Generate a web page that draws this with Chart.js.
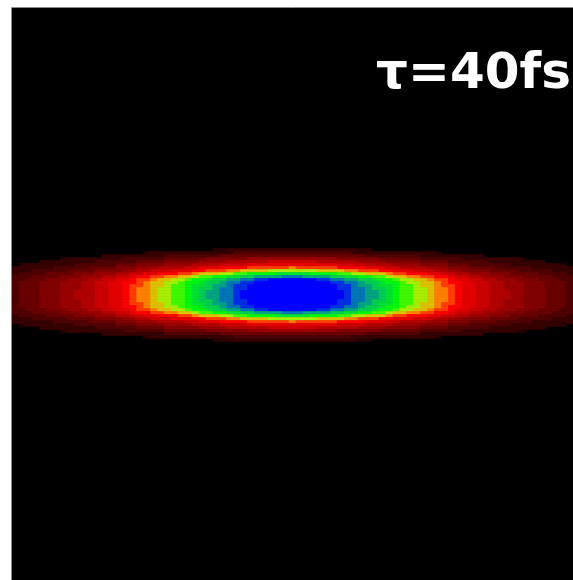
<!DOCTYPE html>
<html>
<head>
<meta charset="utf-8">
<script src="https://cdn.jsdelivr.net/npm/chart.js@4.4.1/dist/chart.umd.min.js"></script>
<style>
  html, body { margin: 0; padding: 0; background: #fff; }
</style>
</head>
<body>
<canvas id="pulse" width="573" height="580"></canvas>
<script>
// Horizontal offsets from the pulse centre (plot units) and the intensity read there
const xOffsets = [0, 7, 14, 21, 28, 35, 42, 49, 56, 63, 70, 77, 84, 91, 98, 105, 112, 119, 126, 133,
  140, 147, 154, 161, 168, 175, 182, 189, 196, 203, 210, 217, 224, 231, 238, 245, 252, 259, 266, 273, 280];
const xProfile = [1.000, 0.997, 0.990, 0.980, 0.965, 0.945, 0.925, 0.900, 0.875, 0.850, 0.825, 0.800,
  0.775, 0.745, 0.710, 0.675, 0.645, 0.620, 0.596, 0.572, 0.550, 0.520, 0.486, 0.452, 0.420, 0.395,
  0.372, 0.350, 0.330, 0.310, 0.291, 0.273, 0.256, 0.240, 0.225, 0.210, 0.196, 0.182, 0.168, 0.155, 0.142];

// Vertical offsets from the centre and the intensity read there
const yOffsets = [0, 3, 6, 9, 12, 15, 18, 21, 24, 27, 30, 33, 36, 39, 42, 45, 48, 51];
const yProfile = [1.0, 0.998, 0.99, 0.978, 0.96, 0.92, 0.82, 0.70, 0.58, 0.48, 0.39, 0.32, 0.25, 0.18,
  0.12, 0.075, 0.04, 0.0];

// Colour scale: intensity -> rgb (below the first stop is black)
const scaleLevels = [0.06, 0.42, 0.50, 0.57, 0.65, 0.76, 0.84, 0.90];
const scaleColors = [[40, 0, 0], [255, 0, 0], [255, 128, 0], [200, 235, 0], [0, 255, 0],
  [0, 200, 90], [0, 110, 190], [0, 0, 255]];

const pulseLabel = "τ=40fs";

// mirror the read profiles to both sides of the centre
const colX = xOffsets.slice(1).reverse().map((d) => -d).concat(xOffsets);
const colV = xProfile.slice(1).reverse().concat(xProfile);
const rowY = yOffsets.slice(1).reverse().map((d) => -d).concat(yOffsets);
const rowV = yProfile.slice(1).reverse().concat(yProfile);

function colourOf(v) {
  if (v < scaleLevels[0]) return null;
  const q = Math.max(scaleLevels[0], Math.round(v * 24) / 24);
  if (q >= scaleLevels[scaleLevels.length - 1]) return "rgb(0,0,255)";
  for (let i = 0; i < scaleLevels.length - 1; i++) {
    if (q < scaleLevels[i + 1]) {
      const t = (q - scaleLevels[i]) / (scaleLevels[i + 1] - scaleLevels[i]);
      const a = scaleColors[i], b = scaleColors[i + 1];
      return `rgb(${a.map((c, k) => Math.round(c + (b[k] - c) * t)).join(",")})`;
    }
  }
  return "rgb(0,0,255)";
}

// one floating-bar dataset per row of cells
const datasets = rowY.map((y, j) => {
  const colours = colV.map((fx) => colourOf(fx * rowV[j]));
  return {
    data: colours.map((c) => (c ? [y - 1.5, y + 1.5] : null)),
    backgroundColor: colours.map((c) => c || "rgba(0,0,0,0)"),
    borderWidth: 0,
    grouped: false,
    barPercentage: 1,
    categoryPercentage: 1,
  };
});

const backdrop = {
  id: "backdrop",
  beforeDraw(chart) {
    const { ctx, chartArea: a } = chart;
    ctx.save();
    ctx.fillStyle = "#000";
    ctx.fillRect(a.left, a.top, a.right - a.left, a.bottom - a.top);
    ctx.strokeStyle = "#8c8c8c";
    ctx.lineWidth = 1;
    ctx.beginPath();
    ctx.moveTo(a.left - 0.5, a.bottom);
    ctx.lineTo(a.left - 0.5, a.top - 0.5);
    ctx.lineTo(a.right, a.top - 0.5);
    ctx.stroke();
    ctx.restore();
  },
  afterDraw(chart) {
    const { ctx } = chart;
    ctx.save();
    ctx.fillStyle = "#fff";
    ctx.font = 'bold 50px "DejaVu Sans", sans-serif';
    ctx.textAlign = "right";
    ctx.textBaseline = "alphabetic";
    ctx.fillText(pulseLabel, 571, 88);
    ctx.restore();
  },
};

new Chart(document.getElementById("pulse"), {
  type: "bar",
  data: { labels: colX, datasets },
  options: {
    responsive: false,
    animation: false,
    layout: { padding: { left: 12, top: 8, right: 0, bottom: 0 } },
    plugins: { legend: { display: false }, tooltip: { enabled: false } },
    scales: {
      x: { display: false, grid: { display: false } },
      y: { display: false, min: -285, max: 287, grid: { display: false } },
    },
  },
  plugins: [backdrop],
});
</script>
</body>
</html>
